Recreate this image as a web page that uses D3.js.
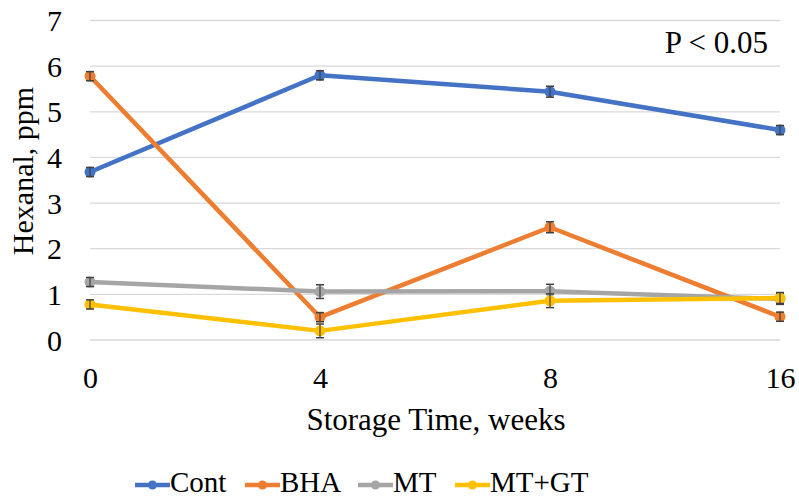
<!DOCTYPE html>
<html>
<head>
<meta charset="utf-8">
<title>Hexanal</title>
<style>
  body { margin: 0; background: #fff; }
  svg text { font-family: "Liberation Serif", "Times New Roman", serif; fill: #000; }
</style>
</head>
<body>
<svg id="canvas" width="799" height="500"></svg>
<script src="https://cdn.jsdelivr.net/npm/d3@7"></script>
<script>
  let weeks = ["0", "4", "8", "16"];
  let yTicks = [0, 1, 2, 3, 4, 5, 6, 7];
  let seriesNames = ["Cont", "BHA", "MT", "MT+GT"];
  let cont = [3.68, 5.8, 5.44, 4.6];
  let bha = [5.78, 0.5, 2.47, 0.51];
  let mt = [1.27, 1.06, 1.07, 0.9];
  let mtgt = [0.78, 0.2, 0.86, 0.92];
  let contErr = [0.1, 0.1, 0.12, 0.1];
  let bhaErr = [0.1, 0.1, 0.12, 0.1];
  let mtErr = [0.1, 0.15, 0.15, 0.12];
  let mtgtErr = [0.1, 0.15, 0.15, 0.12];

  let colors = ["#4472C4", "#ED7D31", "#A5A5A5", "#FFC000"];
  let series = [
    { name: seriesNames[0], values: cont, err: contErr },
    { name: seriesNames[1], values: bha, err: bhaErr },
    { name: seriesNames[2], values: mt, err: mtErr },
    { name: seriesNames[3], values: mtgt, err: mtgtErr }
  ];

  let serif = "'Liberation Serif', 'Times New Roman', serif";
  let svg = d3.select("#canvas");
  let margin = { top: 20.5, left: 90, right: 19, bottom: 160 };
  let width = 780 - margin.left;
  let height = 340 - margin.top;

  let g = svg.append("g")
    .attr("transform", "translate(" + margin.left + "," + margin.top + ")");

  let x = d3.scalePoint().domain(weeks).range([0, width]);
  let y = d3.scaleLinear().domain([0, 7]).range([height, 0]);

  // grid
  g.append("g")
    .selectAll("line")
    .data(yTicks)
    .enter().append("line")
      .attr("x1", 0)
      .attr("x2", width)
      .attr("y1", d => y(d))
      .attr("y2", d => y(d))
      .attr("stroke", "#d9d9d9")
      .attr("stroke-width", 1.3);

  // axes (labels only)
  let yAxis = g.append("g")
    .attr("font-family", serif)
    .call(d3.axisLeft(y).tickValues(yTicks).tickFormat(d3.format("d")).tickSize(0).tickPadding(28));
  yAxis.select(".domain").remove();
  yAxis.selectAll("text").style("font-size", "30px").attr("fill", "#000").attr("dy", "0.34em");

  let xAxis = g.append("g")
    .attr("font-family", serif)
    .attr("transform", "translate(0," + height + ")")
    .call(d3.axisBottom(x).tickSize(0).tickPadding(0));
  xAxis.select(".domain").remove();
  xAxis.selectAll("text").style("font-size", "30px").attr("fill", "#000").attr("dy", null).attr("y", 48);

  // titles
  svg.append("text")
    .attr("transform", "translate(22,171) rotate(-90)")
    .attr("text-anchor", "middle")
    .attr("dy", "0.35em")
    .style("font-size", "30px")
    .style("fill", "#000")
    .text("Hexanal, ppm");

  svg.append("text")
    .attr("x", 436)
    .attr("y", 430)
    .attr("text-anchor", "middle")
    .style("font-size", "31px")
    .text("Storage Time, weeks");

  svg.append("text")
    .attr("x", 768)
    .attr("y", 53)
    .attr("text-anchor", "end")
    .style("font-size", "31px")
    .text("P < 0.05");

  let line = d3.line()
    .x((d, i) => x(weeks[i]))
    .y(d => y(d));

  series.forEach(function(s, k) {
    let sg = g.append("g");
    sg.append("path")
      .attr("d", line(s.values))
      .attr("fill", "none")
      .attr("stroke", colors[k])
      .attr("stroke-width", 4.5)
      .attr("stroke-linejoin", "round");

    sg.selectAll("circle")
      .data(s.values)
      .enter().append("circle")
        .attr("cx", (d, i) => x(weeks[i]))
        .attr("cy", d => y(d))
        .attr("r", 5.5)
        .attr("fill", colors[k]);

    // error bars
    let eb = sg.selectAll(".err")
      .data(s.values)
      .enter().append("g");
    eb.append("line")
      .attr("x1", (d, i) => x(weeks[i]))
      .attr("x2", (d, i) => x(weeks[i]))
      .attr("y1", (d, i) => y(d - s.err[i]))
      .attr("y2", (d, i) => y(d + s.err[i]))
      .attr("stroke", "#404040")
      .attr("stroke-width", 1.2);
    [-1, 1].forEach(function(sign) {
      eb.append("line")
        .attr("x1", (d, i) => x(weeks[i]) - 4)
        .attr("x2", (d, i) => x(weeks[i]) + 4)
        .attr("y1", (d, i) => y(d + sign * s.err[i]))
        .attr("y2", (d, i) => y(d + sign * s.err[i]))
        .attr("stroke", "#404040")
        .attr("stroke-width", 1.5);
    });
  });

  // legend
  let legendX = [135, 245, 358, 455];
  let legend = svg.append("g");
  series.forEach(function(s, k) {
    let lg = legend.append("g").attr("transform", "translate(" + legendX[k] + ",485)");
    lg.append("line")
      .attr("x1", 0).attr("x2", 35)
      .attr("stroke", colors[k])
      .attr("stroke-width", 4.5);
    lg.append("circle")
      .attr("cx", 17.5).attr("r", 4.5)
      .attr("fill", colors[k]);
    lg.append("text")
      .attr("x", 35)
      .attr("y", 7)
      .style("font-family", serif)
      .style("font-size", "29px")
      .style("fill", "#000")
      .text(s.name);
  });
</script>
</body>
</html>
